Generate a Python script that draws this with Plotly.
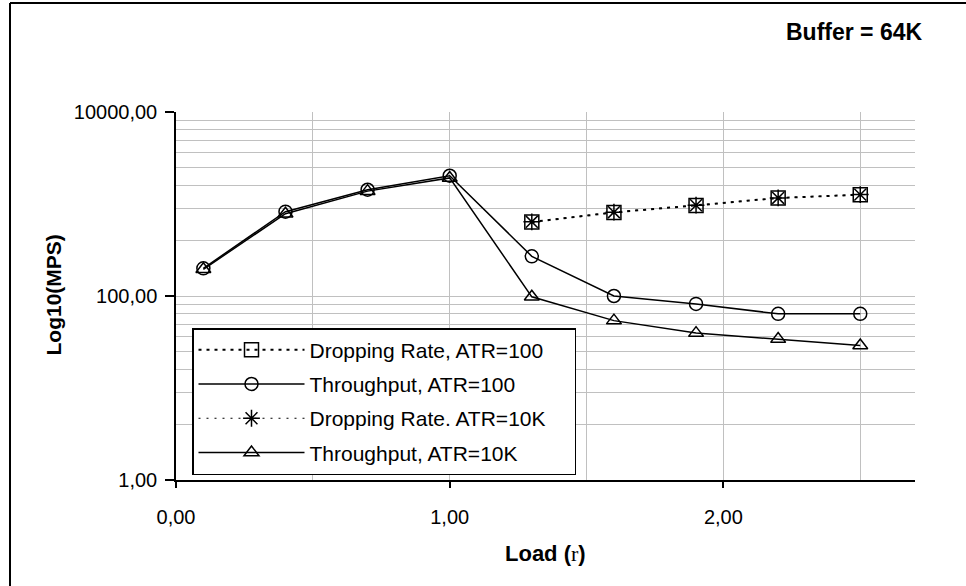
import plotly.graph_objects as go

# ---- data ----
load = [0.1, 0.4, 0.7, 1.0, 1.3, 1.6, 1.9, 2.2, 2.5]
load_drop = [1.3, 1.6, 1.9, 2.2, 2.5]
thr_atr100 = [200, 825, 1430, 2030, 270, 100, 82, 64, 64]
thr_atr10k = [195, 785, 1380, 1920, 98, 54, 39.5, 34, 29]
drop_atr100 = [637, 810, 966, 1162, 1262]
drop_atr10k = [640, 815, 970, 1165, 1265]

series_names = ["Dropping Rate, ATR=100", "Throughput, ATR=100",
                "Dropping Rate. ATR=10K", "Throughput, ATR=10K"]

x_tickvals = [0, 1, 2]
x_ticktext = ["0,00", "1,00", "2,00"]
y_tickvals = [1, 100, 10000]
y_ticktext = ["1,00", "100,00", "10000,00"]
y_minor = [4, 9, 16, 25, 36, 49, 64, 81, 400, 900, 1600, 2500, 3600, 4900, 6400, 8100]

FONT = "Liberation Sans, Arial, sans-serif"
GRID = "#c0c0c0"
PAD = "\u00a0" * 4  # right padding inside the legend box

fig = go.Figure()
fig.add_trace(go.Scatter(
    x=load_drop, y=drop_atr100, name=series_names[0] + PAD, mode="lines+markers",
    line=dict(color="black", width=2, dash="3px,5px"),
    marker=dict(symbol="square-open", size=14, color="black", line=dict(width=1.5, color="black")),
    legendgroup="a"))
fig.add_trace(go.Scatter(
    x=load, y=thr_atr100, name=series_names[1] + PAD, mode="lines+markers",
    line=dict(color="black", width=1.5),
    marker=dict(symbol="circle-open", size=13, color="black", line=dict(width=1.5, color="black")),
    legendgroup="b"))
fig.add_trace(go.Scatter(
    x=load_drop, y=drop_atr10k, name=series_names[2] + PAD, mode="lines+markers",
    line=dict(color="black", width=1, dash="2px,6px"),
    marker=dict(symbol="asterisk-open", size=14, color="black", line=dict(width=1.5, color="black")),
    legendgroup="c"))
fig.add_trace(go.Scatter(
    x=load, y=thr_atr10k, name=series_names[3] + PAD, mode="lines+markers",
    line=dict(color="black", width=1.5),
    marker=dict(symbol="triangle-up-open", size=13, color="black", line=dict(width=1.5, color="black")),
    legendgroup="d"))

L, R, T, B = 176, 51, 112, 106
W, H = 966, 586
pw, ph = W - L - R, H - T - B

def px_x(p):
    return (p - L) / pw

def px_y(p):
    return (H - B - p) / ph

fig.update_layout(
    width=W, height=H,
    margin=dict(l=L, r=R, t=T, b=B, autoexpand=False),
    paper_bgcolor="white", plot_bgcolor="white",
    font=dict(family=FONT, size=20, color="black"),
    showlegend=True,
    legend=dict(
        x=px_x(192), y=px_y(328), xanchor="left", yanchor="top",
        bordercolor="black", borderwidth=1.5, bgcolor="white",
        font=dict(family=FONT, size=21, color="black"),
        traceorder="grouped", tracegroupgap=4, itemwidth=106,
    ),
    xaxis=dict(
        range=[0, 2.7], tickmode="array", tickvals=x_tickvals, ticktext=x_ticktext,
        ticks="outside", ticklen=6, tickwidth=1.5, tickcolor="black",
        showline=True, linecolor="black", linewidth=1.5,
        showgrid=True, gridcolor=GRID, gridwidth=1,
        minor=dict(dtick=0.5, tick0=0, showgrid=True, gridcolor=GRID, gridwidth=1, ticks=""),
        ticklabelstandoff=12, zeroline=False,
        tickfont=dict(family=FONT, size=20),
    ),
    yaxis=dict(
        type="log", range=[0, 4], tickmode="array", tickvals=y_tickvals, ticktext=y_ticktext,
        ticks="outside", ticklen=9, tickwidth=1.5, tickcolor="black",
        showline=True, linecolor="black", linewidth=1.5,
        showgrid=True, gridcolor=GRID, gridwidth=1,
        minor=dict(tickmode="array", tickvals=y_minor, showgrid=True, gridcolor=GRID, gridwidth=1, ticks=""),
        ticklabelstandoff=4, zeroline=False,
        tickfont=dict(family=FONT, size=20),
    ),
    annotations=[
        dict(text="<b>Log10(MPS)</b>", xref="paper", yref="paper", x=px_x(52.5), y=px_y(295),
             xanchor="center", yanchor="middle", textangle=-90, showarrow=False,
             font=dict(family=FONT, size=21)),
        dict(text="<b>Load (</b><span style='font-family:Liberation Serif, Times New Roman, serif'>r</span><b>)</b>",
             xref="paper", yref="paper", x=px_x(545), y=px_y(553),
             xanchor="center", yanchor="middle", showarrow=False,
             font=dict(family=FONT, size=22)),
        dict(text="<b>Buffer = 64K</b>", xref="paper", yref="paper", x=px_x(925), y=px_y(32),
             xanchor="right", yanchor="middle", showarrow=False,
             font=dict(family=FONT, size=23)),
    ],
    shapes=[
        dict(type="line", xref="paper", yref="paper", x0=px_x(10), x1=px_x(10),
             y0=px_y(3), y1=px_y(600), line=dict(color="black", width=2)),
        dict(type="line", xref="paper", yref="paper", x0=px_x(10), x1=px_x(980),
             y0=px_y(3), y1=px_y(3), line=dict(color="black", width=2)),
    ],
)

fig.write_html("out.html", config={"displayModeBar": False},
               post_script="document.body.style.margin='0';")
